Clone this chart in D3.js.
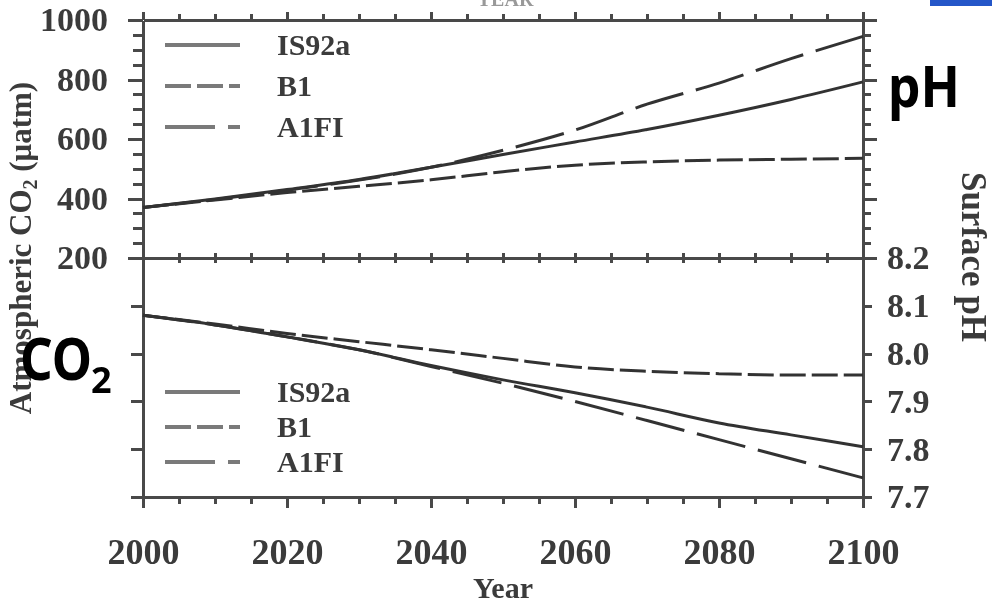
<!DOCTYPE html>
<html lang="en">
<head>
<meta charset="utf-8">
<title>Atmospheric CO2 and surface pH, 2000-2100</title>
<script src="https://cdn.jsdelivr.net/npm/d3@7/dist/d3.min.js"></script>
<style>
  body { margin: 0; background: #fff; }
  svg text { font-family: "Liberation Serif", "DejaVu Serif", serif; font-weight: bold; fill: #3a3a3a; }
  .axis path, .axis line { stroke: #484848; stroke-width: 3; shape-rendering: crispEdges; }
  .axis text { font-size: 34px; }
  .axis.years text { font-size: 36px; }
  .legend text { font-size: 30px; }
  text.overlay { font-family: "Noto Sans", "Open Sans", sans-serif; font-weight: bold; fill: #000; }
</style>
</head>
<body>
<script>
// data (every 10 years)
var years = [2000, 2010, 2020, 2030, 2040, 2050, 2060, 2070, 2080, 2090, 2100];

var co2IS92a = [370, 398, 430, 464, 505, 548, 590, 632, 680, 733, 792];
var co2B1    = [370, 395, 420, 441, 463, 490, 512, 523, 529, 532, 535];
var co2A1FI  = [370, 397, 428, 462, 505, 562, 630, 717, 788, 870, 945];

var phIS92a = [8.08, 8.06, 8.035, 8.008, 7.975, 7.945, 7.918, 7.888, 7.855, 7.83, 7.805];
var phB1    = [8.08, 8.062, 8.042, 8.025, 8.008, 7.99, 7.972, 7.963, 7.958, 7.955, 7.955];
var phA1FI  = [8.08, 8.06, 8.035, 8.008, 7.973, 7.938, 7.9, 7.86, 7.82, 7.78, 7.74];

var scenarios = ["IS92a", "B1", "A1FI"];
var yearTicks = [2000, 2020, 2040, 2060, 2080, 2100];
var co2Ticks = [200, 400, 600, 800, 1000];
var phTicks = [7.7, 7.8, 7.9, 8.0, 8.1, 8.2];

var w = 992, h = 603;
var pLeft = 143, pRight = 863, pTop = 20, pMid = 258, pBottom = 497;

var dashes = { "IS92a": null, "B1": "26,6", "A1FI": "50,13" };

var svg = d3.select("body").append("svg")
  .attr("width", w)
  .attr("height", h);

// slight softening, the source is a scan
svg.append("defs").append("filter")
  .attr("id", "soft")
  .append("feGaussianBlur")
  .attr("stdDeviation", 0.6);

var chart = svg.append("g").attr("filter", "url(#soft)");

// scales
var x = d3.scaleLinear().domain([2000, 2100]).range([pLeft, pRight]);
var yCo2 = d3.scaleLinear().domain([200, 1000]).range([pMid, pTop]);
var yPh = d3.scaleLinear().domain([7.7, 8.2]).range([pBottom, pMid]);

var fiveYears = d3.range(2000, 2101, 5);
var fifty = d3.range(200, 1001, 50);

// top edge
chart.append("g").attr("class", "axis")
  .attr("transform", "translate(0," + pTop + ")")
  .call(d3.axisTop(x).tickValues(fiveYears).tickSize(6).tickSizeOuter(0).tickFormat(""))
  .selectAll(".tick line").attr("y2", function (d) { return d % 20 === 0 ? -8 : -6; });

// middle divider, ticks cross the line
chart.append("g").attr("class", "axis")
  .attr("transform", "translate(0," + pMid + ")")
  .call(d3.axisBottom(x).tickValues(fiveYears).tickSize(5).tickSizeOuter(0).tickFormat(""));
chart.append("g").attr("class", "axis")
  .attr("transform", "translate(0," + pMid + ")")
  .call(d3.axisTop(x).tickValues(fiveYears).tickSize(5).tickSizeOuter(0).tickFormat(""));

// bottom axis with labels
chart.append("g").attr("class", "axis years")
  .attr("transform", "translate(0," + pBottom + ")")
  .call(d3.axisBottom(x).tickValues(fiveYears).tickSize(7).tickSizeOuter(0).tickPadding(34)
    .tickFormat(function (d) { return yearTicks.indexOf(d) >= 0 ? d : ""; }))
  .selectAll(".tick line").attr("y2", function (d) { return d % 20 === 0 ? 11 : 7; });

// left axis, CO2 panel
chart.append("g").attr("class", "axis")
  .attr("transform", "translate(" + pLeft + ",0)")
  .call(d3.axisLeft(yCo2).tickValues(fifty).tickSize(10).tickSizeOuter(0).tickPadding(25)
    .tickFormat(function (d) { return co2Ticks.indexOf(d) >= 0 ? d : ""; }))
  .selectAll(".tick line").attr("x2", function (d) { return d % 200 === 0 ? -15 : -10; });

// right axis, CO2 panel (no labels)
chart.append("g").attr("class", "axis")
  .attr("transform", "translate(" + pRight + ",0)")
  .call(d3.axisRight(yCo2).tickValues(fifty).tickSize(8).tickSizeOuter(0).tickFormat(""))
  .selectAll(".tick line").attr("x2", function (d) { return d % 200 === 0 ? 14 : 8; });

// left axis, pH panel (ticks only)
chart.append("g").attr("class", "axis")
  .attr("transform", "translate(" + pLeft + ",0)")
  .call(d3.axisLeft(yPh).tickValues(phTicks).tickSize(12).tickSizeOuter(0).tickFormat(""));

// right axis, pH panel
chart.append("g").attr("class", "axis")
  .attr("transform", "translate(" + pRight + ",0)")
  .call(d3.axisRight(yPh).tickValues(phTicks).tickSize(9).tickSizeOuter(0).tickPadding(15)
    .tickFormat(d3.format(".1f")));

// series
var co2Series = { "IS92a": co2IS92a, "B1": co2B1, "A1FI": co2A1FI };
var phSeries = { "IS92a": phIS92a, "B1": phB1, "A1FI": phA1FI };

var co2Line = d3.line()
  .x(function (d, i) { return x(years[i]); })
  .y(function (d) { return yCo2(d); })
  .curve(d3.curveMonotoneX);

var phLine = d3.line()
  .x(function (d, i) { return x(years[i]); })
  .y(function (d) { return yPh(d); })
  .curve(d3.curveMonotoneX);

scenarios.forEach(function (s) {
  chart.append("path")
    .attr("d", co2Line(co2Series[s]))
    .attr("fill", "none")
    .attr("stroke", "#333")
    .attr("stroke-width", 3)
    .attr("stroke-dasharray", dashes[s]);
  chart.append("path")
    .attr("d", phLine(phSeries[s]))
    .attr("fill", "none")
    .attr("stroke", "#333")
    .attr("stroke-width", 3)
    .attr("stroke-dasharray", dashes[s]);
});

// legends
function legend(y0, step) {
  var g = chart.append("g").attr("class", "legend");
  scenarios.forEach(function (s, i) {
    var yy = y0 + i * step;
    g.append("line")
      .attr("x1", 165).attr("x2", 240)
      .attr("y1", yy).attr("y2", yy)
      .attr("stroke", "#7a7a7a")
      .attr("stroke-width", 4)
      .attr("stroke-dasharray", dashes[s]);
    g.append("text")
      .attr("x", 277)
      .attr("y", yy + 10)
      .text(s);
  });
}
legend(45, 41);
legend(392, 35);

// axis titles
chart.append("text")
  .attr("x", (pLeft + pRight) / 2)
  .attr("y", 598)
  .attr("text-anchor", "middle")
  .style("font-size", "30px")
  .text("Year");

var lt = chart.append("text")
  .attr("transform", "translate(31,248) rotate(-90)")
  .attr("text-anchor", "middle")
  .style("font-size", "31px");
lt.append("tspan").text("Atmospheric CO");
lt.append("tspan").attr("dy", 6).style("font-size", "20px").text("2");
lt.append("tspan").attr("dy", -6).text(" (μatm)");

chart.append("text")
  .attr("transform", "translate(962,257) rotate(90)")
  .attr("text-anchor", "middle")
  .style("font-size", "35px")
  .text("Surface pH");

// remnants of the slide at the top edge
svg.append("text")
  .attr("x", 505)
  .attr("y", 6)
  .attr("text-anchor", "middle")
  .style("font-size", "20px")
  .style("fill", "#999")
  .text("YEAR");
svg.append("rect")
  .attr("x", 930).attr("y", 0)
  .attr("width", 62).attr("height", 6)
  .attr("fill", "#2456c8");

// slide overlay labels
var co = svg.append("text")
  .attr("class", "overlay")
  .attr("x", 20)
  .attr("y", 380)
  .style("font-size", "60px");
co.append("tspan").attr("textLength", 72).attr("lengthAdjust", "spacingAndGlyphs").text("CO");
svg.append("text")
  .attr("class", "overlay")
  .attr("x", 91)
  .attr("y", 393)
  .style("font-size", "36px")
  .text("2");

svg.append("text")
  .attr("class", "overlay")
  .attr("x", 888)
  .attr("y", 107)
  .attr("textLength", 72)
  .attr("lengthAdjust", "spacingAndGlyphs")
  .style("font-size", "58px")
  .text("pH");
</script>
</body>
</html>
